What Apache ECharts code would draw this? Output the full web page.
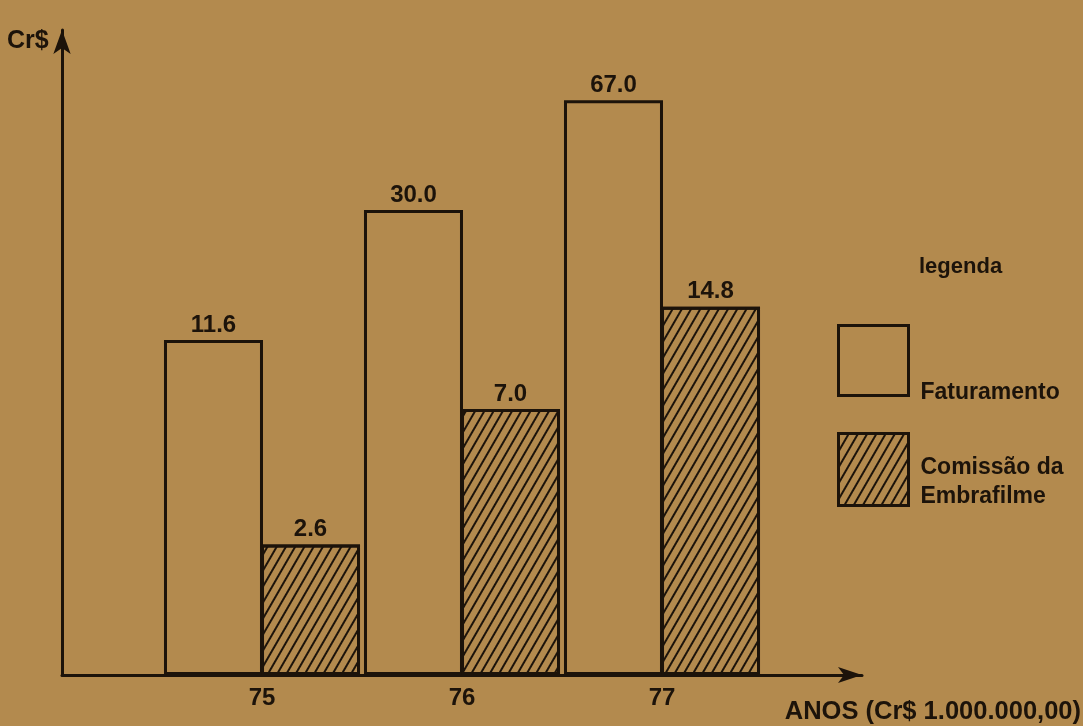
<!DOCTYPE html>
<html>
<head>
<meta charset="utf-8">
<script src="https://cdn.jsdelivr.net/npm/echarts@6/dist/echarts.min.js"></script>
<style>
html,body{margin:0;padding:0;background:#b38a4e;}
#chart{width:1083px;height:726px;}
</style>
</head>
<body>
<div id="chart"></div>
<script>
var years = [75, 76, 77];
var tickLabels = ['75', '76', '77'];
var faturamento = [11.6, 30.0, 67.0];
var comissao = [2.6, 7.0, 14.8];
var seriesNames = ['Faturamento', 'Comissão da Embrafilme'];

var BG = '#b38a4e';
var INK = '#1c130a';
var FONT = '"Liberation Sans", Arial, sans-serif';

function pairs(vals) {
  return years.map(function (y, i) { return [y, vals[i]]; });
}

var chart = echarts.init(document.getElementById('chart'));
var labelCfg = {
  show: true,
  position: 'top',
  distance: 3,
  color: INK,
  fontFamily: FONT,
  fontSize: 24,
  fontWeight: 'bold',
  formatter: function (p) { return p.value[1].toFixed(1); }
};
chart.setOption({
  backgroundColor: BG,
  animation: false,
  grid: { left: 62, right: 221, top: 30, bottom: 51, containLabel: false },
  xAxis: {
    type: 'value',
    min: 74, max: 78, interval: 1,
    splitLine: { show: false },
    axisTick: { show: false },
    axisLine: { show: true, lineStyle: { color: INK, width: 3 }, symbol: ['none', 'arrow'], symbolSize: [12, 24] },
    axisLabel: {
      color: INK, fontFamily: FONT, fontSize: 24, fontWeight: 'bold', margin: 11,
      formatter: function (v) { var i = years.indexOf(v); return i >= 0 ? tickLabels[i] : ''; }
    }
  },
  yAxis: {
    type: 'log',
    logBase: 10,
    min: 1, max: 112,
    splitLine: { show: false },
    axisTick: { show: false },
    axisLabel: { show: false },
    axisLine: { show: true, lineStyle: { color: INK, width: 3 }, symbol: ['none', 'arrow'], symbolSize: [13, 24] }
  },
  legend: [
    {
      data: [seriesNames[0]],
      left: 837, top: 324,
      padding: 0,
      orient: 'vertical',
      selectedMode: false,
      icon: 'rect',
      itemWidth: 70, itemHeight: 70,
      itemStyle: { borderColor: INK, borderWidth: 3 },
      formatter: function (name) { return '{s| }\n{a|' + name + '}'; },
      textStyle: {
        color: INK, fontFamily: FONT, fontSize: 23, fontWeight: 'bold', padding: [0, 0, 0, 7],
        rich: {
          s: { fontSize: 2, lineHeight: 64 },
          a: { color: INK, fontFamily: FONT, fontSize: 23, fontWeight: 'bold', lineHeight: 26 }
        }
      }
    },
    {
      data: [seriesNames[1]],
      left: 837, top: 432,
      padding: 0,
      orient: 'vertical',
      selectedMode: false,
      icon: 'rect',
      itemWidth: 70, itemHeight: 72,
      itemStyle: { borderColor: INK, borderWidth: 3 },
      formatter: function () { return '{s| }\n{a|Comissão da}\n{a|Embrafilme}'; },
      textStyle: {
        color: INK, fontFamily: FONT, fontSize: 23, fontWeight: 'bold', padding: [0, 0, 0, 7],
        rich: {
          s: { fontSize: 2, lineHeight: 26 },
          a: { color: INK, fontFamily: FONT, fontSize: 23, fontWeight: 'bold', lineHeight: 29 }
        }
      }
    }
  ],
  graphic: [
    { type: 'text', left: 7, top: 29, style: { text: 'Cr$', fill: INK, font: 'bold 25px ' + FONT } },
    { type: 'text', left: 919, top: 256, style: { text: 'legenda', fill: INK, font: 'bold 22px ' + FONT } },
    { type: 'text', right: 2, top: 699, style: { text: 'ANOS (Cr$ 1.000.000,00)', fill: INK, font: 'bold 25.5px ' + FONT } }
  ],
  series: [
    {
      name: seriesNames[0],
      type: 'bar',
      data: pairs(faturamento),
      barWidth: 99,
      barGap: '-2%',
      itemStyle: { color: BG, borderColor: INK, borderWidth: 3 },
      label: labelCfg
    },
    {
      name: seriesNames[1],
      type: 'bar',
      data: pairs(comissao),
      barWidth: 99,
      barGap: '-2%',
      itemStyle: {
        color: BG, borderColor: INK, borderWidth: 3,
        decal: {
          symbol: 'rect', symbolSize: 1, color: INK,
          dashArrayX: [1, 0], dashArrayY: [2, 6],
          rotation: -Math.PI / 3
        }
      },
      label: labelCfg
    }
  ]
});
</script>
</body>
</html>
